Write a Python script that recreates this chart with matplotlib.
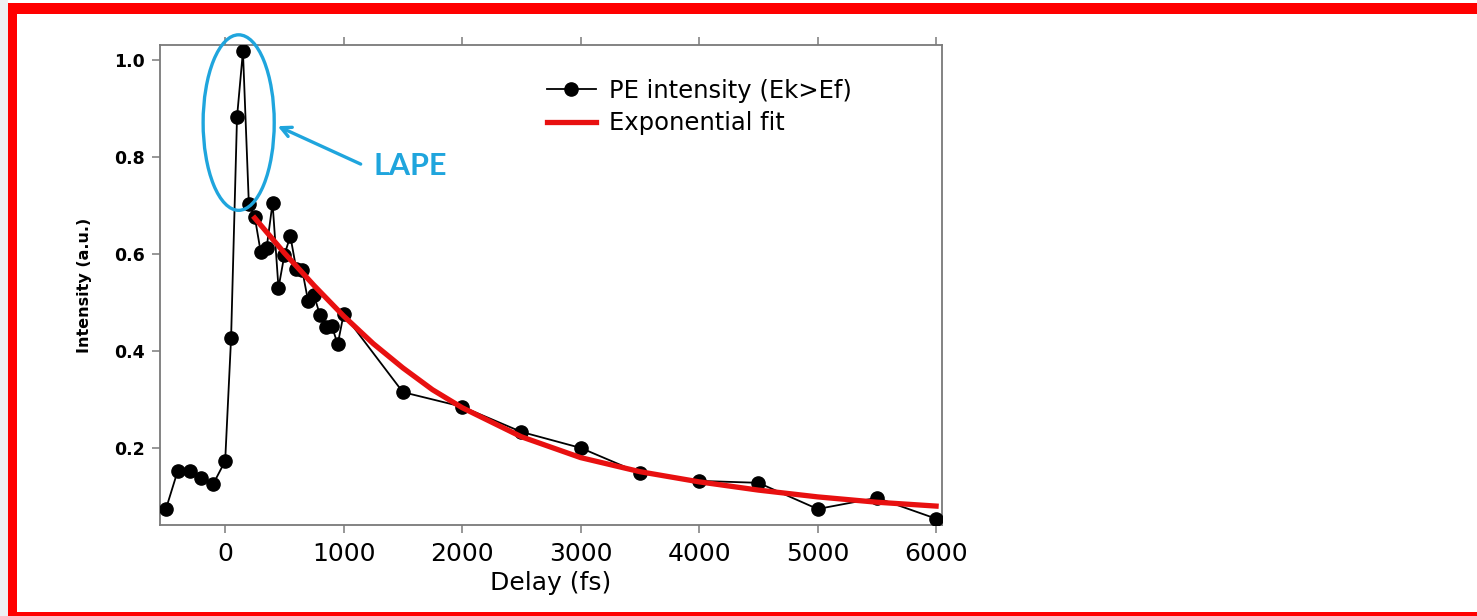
import matplotlib
matplotlib.use('Agg')
from matplotlib import pyplot as plt
from matplotlib.patches import Ellipse, Rectangle

# PE intensity vs delay
delay = [-500, -400, -300, -200, -100, 0, 50, 100, 150, 200, 250, 300, 350, 400,
         450, 500, 550, 600, 650, 700, 750, 800, 850, 900, 950, 1000,
         1500, 2000, 2500, 3000, 3500, 4000, 4500, 5000, 5500, 6000]
intensity = [0.074, 0.153, 0.153, 0.138, 0.126, 0.173, 0.427, 0.882, 1.018, 0.703,
             0.676, 0.604, 0.613, 0.705, 0.530, 0.598, 0.637, 0.569, 0.567, 0.503,
             0.515, 0.474, 0.449, 0.451, 0.414, 0.476,
             0.315, 0.285, 0.233, 0.200, 0.148, 0.132, 0.128, 0.074, 0.097, 0.054]

# exponential fit curve
fit_delay = [250, 500, 750, 1000, 1250, 1500, 1750, 2000, 2500, 3000, 3500,
             4000, 4500, 5000, 5500, 6000]
fit_intensity = [0.674, 0.602, 0.535, 0.472, 0.415, 0.365, 0.320, 0.283, 0.223,
                 0.180, 0.151, 0.130, 0.113, 0.099, 0.088, 0.080]

xticks = [0, 1000, 2000, 3000, 4000, 5000, 6000]
yticks = [0.2, 0.4, 0.6, 0.8, 1.0]

blue = '#1fa5dd'
spine_col = '#7a7a7a'

fig = plt.figure(figsize=(14.77, 6.16), dpi=100)
ax = fig.add_axes([160/1477, 1-525/616, 782/1477, 480/616])

ax.plot(delay, intensity, color='black', lw=1.3, marker='o', ms=9.5,
        label='PE intensity (Ek>Ef)', zorder=3)
ax.plot(fit_delay, fit_intensity, color='#e81010', lw=3.8,
        label='Exponential fit', zorder=4)

ax.set_xlim(-550, 6050)
ax.set_ylim(0.041, 1.031)
ax.set_xticks(xticks)
ax.set_yticks(yticks)
ax.set_yticklabels(['%.1f' % v for v in yticks], fontsize=12.5, fontweight='bold')
ax.set_xticklabels([str(v) for v in xticks], fontsize=18)

for s in ax.spines.values():
    s.set_color(spine_col)
    s.set_linewidth(1.3)
ax.tick_params(axis='both', direction='out', length=6, width=1.1, color=spine_col)
ax.tick_params(axis='x', top=True, pad=6)
ax.tick_params(axis='y', pad=5)

ax.set_xlabel('Delay (fs)', fontsize=18, labelpad=4)
ax.set_ylabel('Intensity (a.u.)', fontsize=11.5, fontweight='bold', labelpad=16)

leg = ax.legend(loc='upper left', bbox_to_anchor=(0.495, 0.93), frameon=False,
                fontsize=17.5, handlelength=2.0, handletextpad=0.55,
                borderaxespad=0, borderpad=0, labelspacing=0.35)

# LAPE annotation
ax.add_patch(Ellipse((114, 0.871), 600, 0.362, fill=False, edgecolor=blue,
                     lw=2.4, zorder=5, clip_on=False))
ax.annotate('', xy=(422, 0.866), xytext=(1165, 0.783),
            arrowprops=dict(arrowstyle='->', color=blue, lw=2.4,
                            mutation_scale=18))
ax.text(1255, 0.781, 'LAPE', color=blue, fontsize=22, fontweight='bold',
        family=['Lato', 'DejaVu Sans'], va='center', ha='left')

# red slide frame
fig.patches.append(Rectangle((0, 0), 8/1477, 1, transform=fig.transFigure,
                             facecolor='#eef0f3', edgecolor='none'))
fig.patches.append(Rectangle((8/1477, 1-14/616), 1, 11/616, transform=fig.transFigure,
                             facecolor='#ff0000', edgecolor='none'))
fig.patches.append(Rectangle((8/1477, 0), 9/1477, 1-3/616, transform=fig.transFigure,
                             facecolor='#ff0000', edgecolor='none'))
fig.patches.append(Rectangle((8/1477, 0), 1, 4/616, transform=fig.transFigure,
                             facecolor='#ff0000', edgecolor='none'))

plt.savefig('out.png', dpi=100)
